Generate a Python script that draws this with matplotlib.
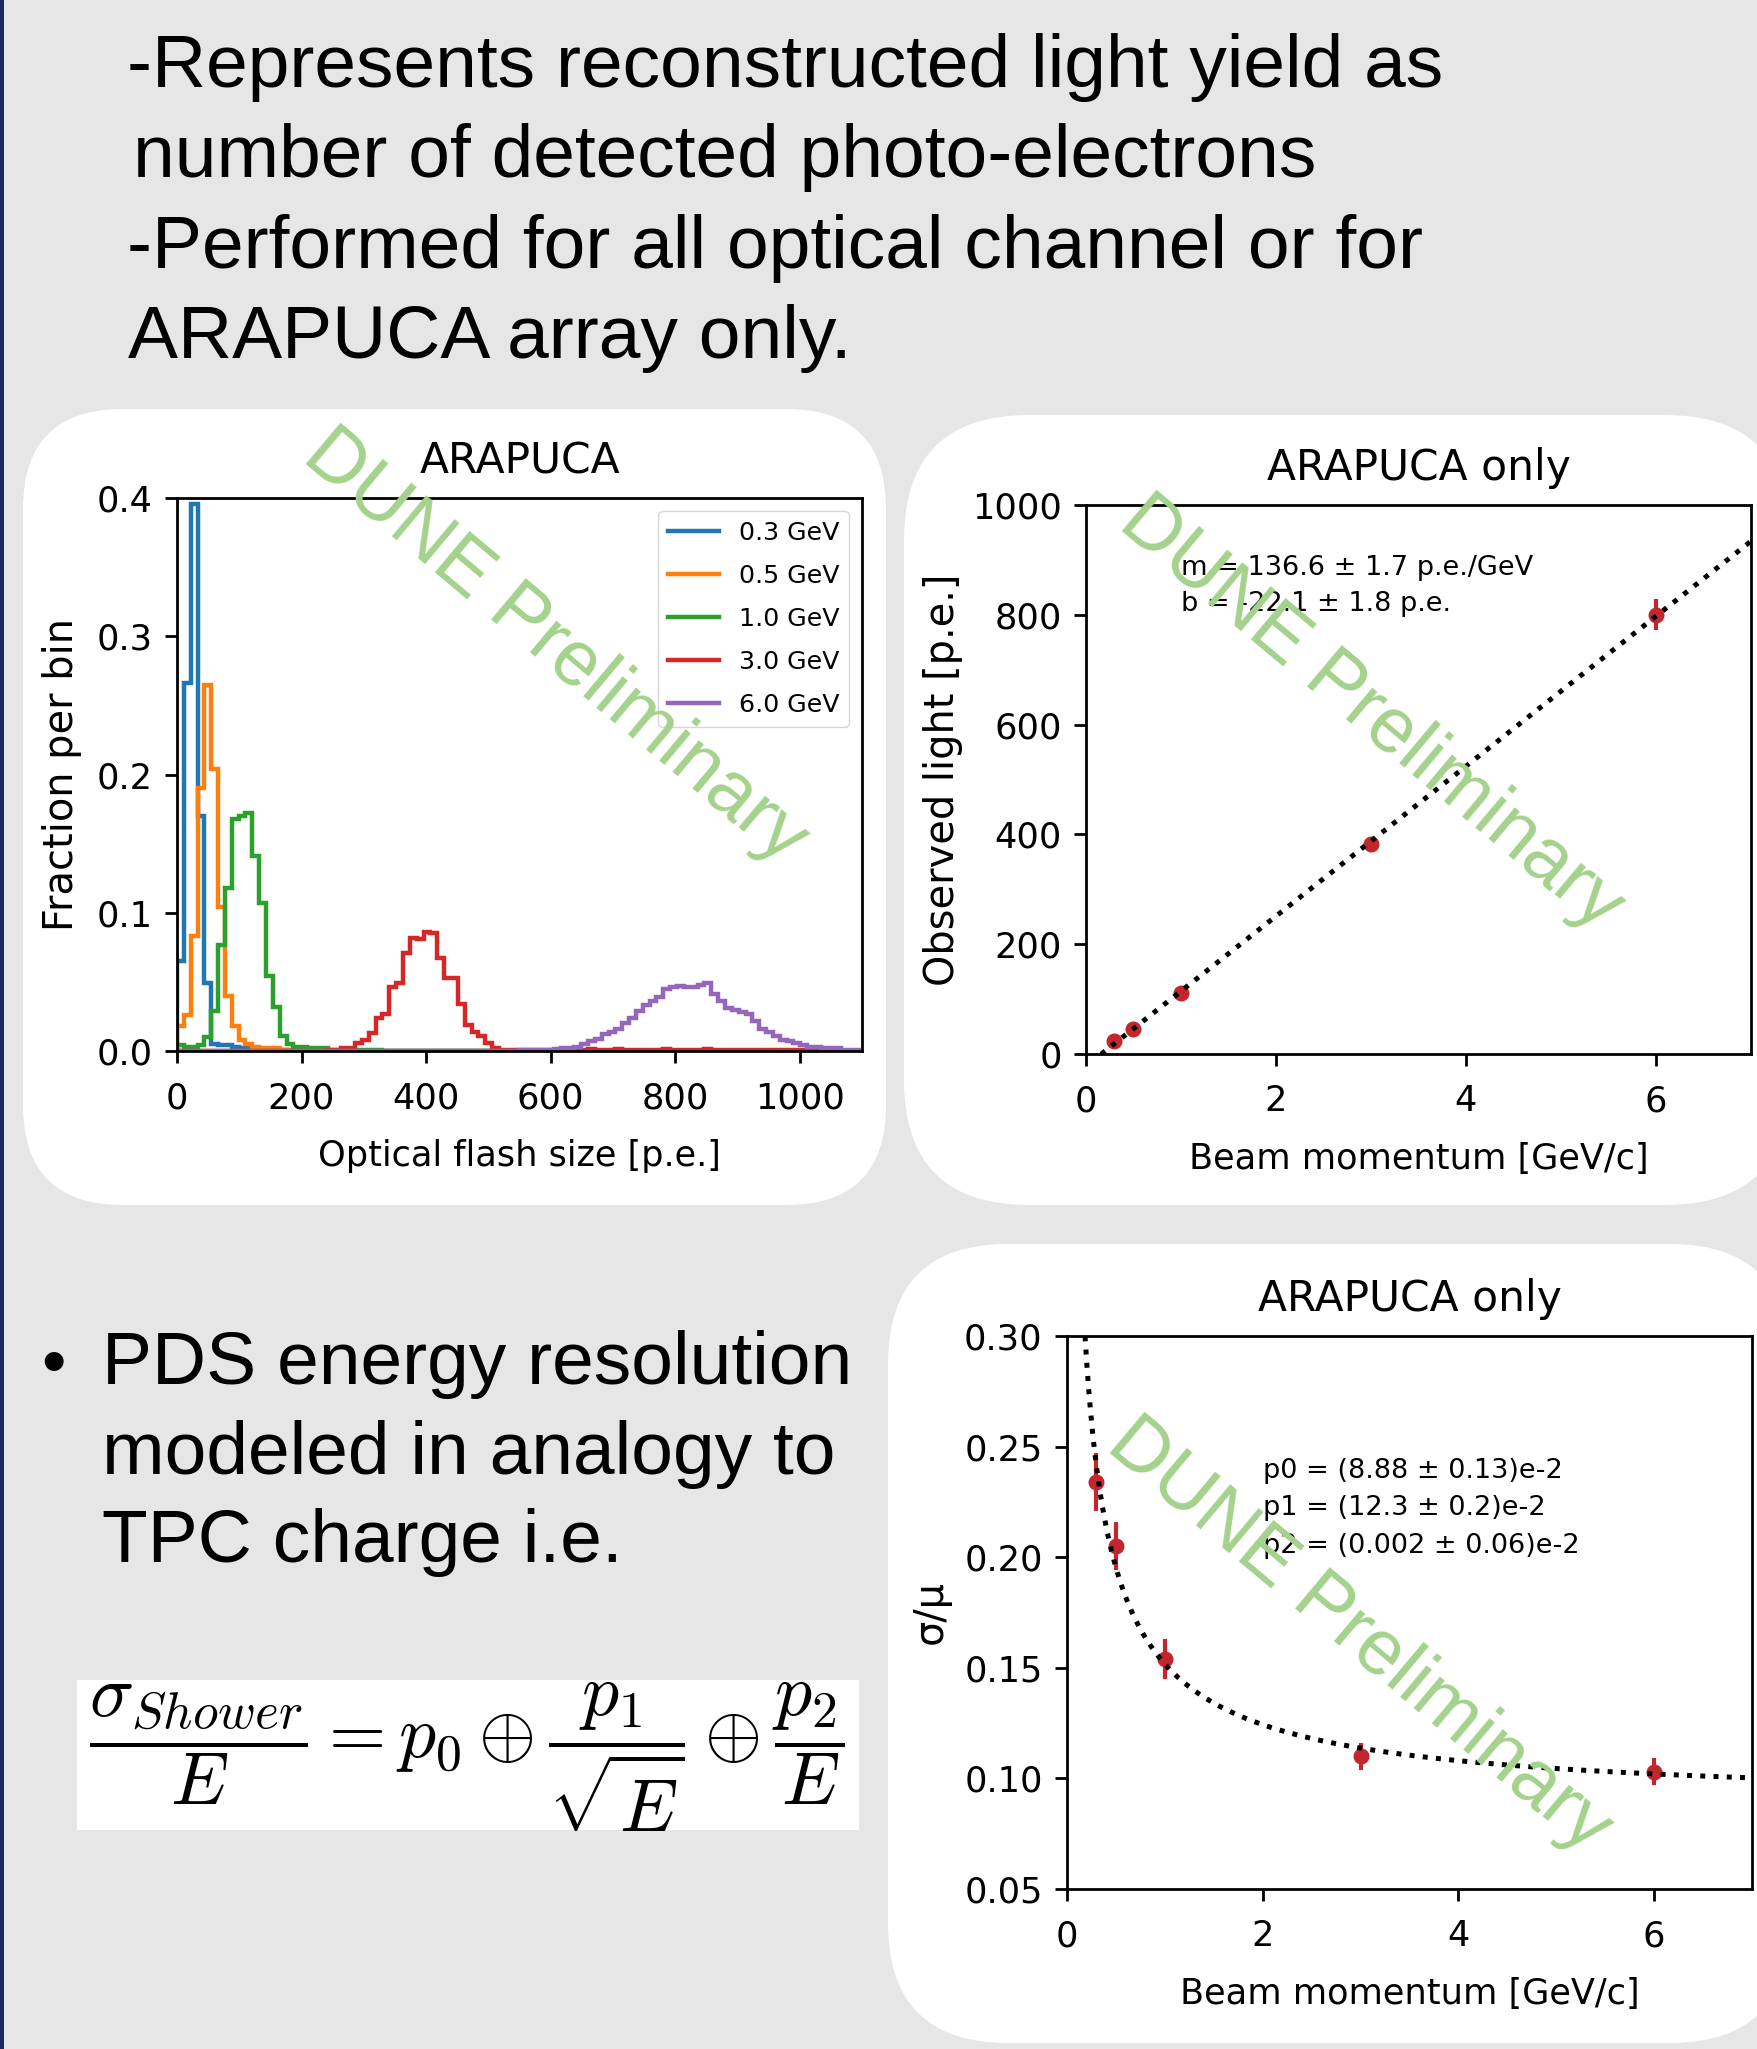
import numpy as np
import matplotlib
matplotlib.use("Agg")
import matplotlib.pyplot as plt
from matplotlib.patches import FancyBboxPatch, Rectangle
from matplotlib.lines import Line2D

# ---------------- data ----------------
flash_bin_edges = np.linspace(0, 1100, 101)          # optical flash size bins [p.e.]
beam_labels = ["0.3 GeV", "0.5 GeV", "1.0 GeV", "3.0 GeV", "6.0 GeV"]
hist_colors = ["#1f77b4", "#ff7f0e", "#2ca02c", "#d62728", "#9467bd"]

# fraction per bin, given as (first bin index, values)
frac_0p3_start = 0
frac_0p3 = [0.065, 0.266, 0.396, 0.170, 0.049, 0.005, 0.004, 0.004, 0.003,
            0.002, 0.002, 0.001, 0.001, 0.001, 0.0005, 0.0005]
frac_0p5_start = 0
frac_0p5 = [0.018, 0.026, 0.083, 0.190, 0.265, 0.204, 0.104, 0.040, 0.018,
            0.008, 0.005, 0.003, 0.002, 0.002, 0.002, 0.001, 0.001, 0.001,
            0.001, 0.0005, 0.0005, 0.0005]
frac_1p0_start = 0
frac_1p0 = [0.004, 0.003, 0.003, 0.004, 0.010, 0.029, 0.077, 0.118, 0.168,
            0.170, 0.172, 0.141, 0.107, 0.054, 0.032, 0.011, 0.005, 0.003,
            0.003, 0.002, 0.002, 0.002, 0.001, 0.001, 0.001, 0.001, 0.0005,
            0.0005, 0.0005, 0.0005]
frac_3p0_start = 22
frac_3p0 = [0.001, 0.001, 0.002, 0.002, 0.006, 0.008, 0.013, 0.024, 0.027,
            0.046, 0.049, 0.071, 0.082, 0.081, 0.086, 0.085, 0.067, 0.053,
            0.053, 0.034, 0.019, 0.014, 0.011, 0.006, 0.002, 0.001,
            0.001, 0.0007, 0.0007, 0.001, 0.0007, 0.0007, 0.0007, 0.001,
            0.0007, 0.0007, 0.0007, 0.0007, 0.0015, 0.0007, 0.001, 0.0007,
            0.0015, 0.0007, 0.0007, 0.001, 0.0007, 0.0007, 0.0007, 0.0015,
            0.0007, 0.0007, 0.001, 0.0007, 0.0007, 0.0015, 0.0007, 0.0007,
            0.0007, 0.0007, 0.001, 0.0007, 0.0007, 0.0007, 0.0005, 0.0005,
            0.0005, 0.0005, 0.0005, 0.0005, 0.0005]
frac_6p0_start = 50
frac_6p0 = [0.001, 0.001, 0.001, 0.001, 0.001, 0.0015,
            0.002, 0.002, 0.003, 0.005, 0.007, 0.009, 0.012, 0.014, 0.016,
            0.020, 0.024, 0.029, 0.033, 0.036, 0.039, 0.045, 0.046, 0.047,
            0.046, 0.046, 0.048, 0.049, 0.041, 0.036, 0.031, 0.030, 0.028,
            0.027, 0.022, 0.016, 0.014, 0.011, 0.008, 0.007, 0.006, 0.004,
            0.003, 0.003, 0.002, 0.002, 0.002, 0.001, 0.001, 0.001]

beam_momentum = [0.3, 0.5, 1.0, 3.0, 6.0]            # GeV/c
observed_light = [24, 45, 111, 383, 800]             # p.e.
observed_light_err = [4, 4, 5, 7, 28]
fit_slope, fit_intercept = 136.6, -22.1

sigma_over_mu = [0.234, 0.205, 0.154, 0.110, 0.103]
sigma_over_mu_err = [0.013, 0.011, 0.009, 0.006, 0.006]
res_p0, res_p1, res_p2 = 8.88e-2, 12.3e-2, 0.002e-2

slide_lines_top = ["-Represents reconstructed light yield as",
                   "number of detected photo-electrons",
                   "-Performed for all optical channel or for",
                   "ARAPUCA array only."]
slide_lines_bullet = ["PDS energy resolution", "modeled in analogy to",
                      "TPC charge i.e."]
watermark = "DUNE Preliminary"

# ---------------- style ----------------
W, H = 1758, 2049
S = 2.5
YLAB = 28.7
plt.rcParams.update({
    "font.size": 10 * S,
    "axes.linewidth": 0.8 * S,
    "axes.titlesize": 12.2 * S,
    "axes.titlepad": 18,
    "axes.labelsize": 10.1 * S,
    "axes.labelpad": 4 * S,
    "xtick.major.size": 3.5 * S, "ytick.major.size": 3.5 * S,
    "xtick.major.width": 0.8 * S, "ytick.major.width": 0.8 * S,
    "xtick.major.pad": 13, "ytick.major.pad": 3.5 * S,
    "xtick.labelsize": 10.1 * S, "ytick.labelsize": 10.1 * S,
})

RED = "#c1272d"
GREEN_WM = "#a4d28c"
BG = "#e6e6e6"

fig = plt.figure(figsize=(W / 100, H / 100), dpi=100)
fig.patch.set_facecolor(BG)

bg = fig.add_axes([0, 0, 1, 1], zorder=-5)
bg.set_xlim(0, W)
bg.set_ylim(H, 0)
bg.axis("off")

bg.add_patch(Rectangle((0, 0), 4, H, color="#1b2a5c", lw=0))
for (x0, y0, x1, y1, r) in [(23, 409, 886, 1205, 100),
                            (904, 415, 1790, 1205, 125),
                            (888, 1244, 1790, 2043, 120)]:
    bg.add_patch(FancyBboxPatch((x0, y0), x1 - x0, y1 - y0,
                                boxstyle=f"round,pad=0,rounding_size={r}",
                                fc="white", ec="none"))
bg.add_patch(Rectangle((77, 1680), 782, 150, fc="white", ec="none"))

slide_font = dict(family="Liberation Sans", fontsize=54, color="black")
for txt, x, yb in zip(slide_lines_top, [127, 133, 127, 128], [87, 177, 268, 358]):
    bg.text(x, yb, txt, va="baseline", ha="left", **slide_font)
bg.text(41, 1384, "\u2022", va="baseline", ha="left",
        family="Liberation Sans", fontsize=50)
for txt, yb in zip(slide_lines_bullet, [1384, 1474, 1562]):
    bg.text(102, yb, txt, va="baseline", ha="left", **slide_font)

plt.rcParams["mathtext.fontset"] = "cm"
bg.text(467, 1757,
        r"$\dfrac{\sigma_{Shower}}{E} = p_0 \oplus \dfrac{p_1}{\sqrt{E}} \oplus \dfrac{p_2}{E}$",
        fontsize=53, ha="center", va="center")

def fpos(l, t, r, b):
    return [l / W, 1 - b / H, (r - l) / W, (b - t) / H]

# ---- panel 1: histograms ----
ax1 = fig.add_axes(fpos(177, 498, 862, 1051), zorder=1)
series = [(frac_0p3_start, frac_0p3), (frac_0p5_start, frac_0p5),
          (frac_1p0_start, frac_1p0), (frac_3p0_start, frac_3p0),
          (frac_6p0_start, frac_6p0)]
handles = []
for (start, vals), col, lab in zip(series, hist_colors, beam_labels):
    arr = np.zeros(len(flash_bin_edges) - 1)
    arr[start:start + len(vals)] = vals
    ax1.stairs(arr, flash_bin_edges, color=col, lw=3.2, baseline=0)
    handles.append(Line2D([], [], color=col, lw=3.2, label=lab))
ax1.set_xlim(0, 1100)
ax1.set_ylim(0, 0.4)
ax1.set_xticks([0, 200, 400, 600, 800, 1000])
ax1.set_yticks([0.0, 0.1, 0.2, 0.3, 0.4])
ax1.set_title("ARAPUCA")
ax1.set_xlabel("Optical flash size [p.e.]", labelpad=17)
ax1.set_ylabel("Fraction per bin", labelpad=10.5, fontsize=YLAB)
ax1.legend(handles=handles, loc="upper right", fontsize=18.2, handlelength=2.0,
           labelspacing=0.75)

# ---- panel 2: observed light ----
ax2 = fig.add_axes(fpos(1086, 505, 1751, 1054), zorder=1)
ax2.errorbar(beam_momentum, observed_light, yerr=observed_light_err, fmt="o",
             color=RED, ms=10.5, elinewidth=3, capsize=0, zorder=2)
xf = np.linspace(0.16, 7.3, 300)
ax2.plot(xf, fit_slope * xf + fit_intercept, ls=":", color="black", lw=3.6, zorder=3)
ax2.set_xlim(0, 7)
ax2.set_ylim(0, 1000)
ax2.set_xticks([0, 2, 4, 6])
ax2.set_yticks([0, 200, 400, 600, 800, 1000])
ax2.set_title("ARAPUCA only")
ax2.set_xlabel("Beam momentum [GeV/c]", labelpad=17)
ax2.set_ylabel("Observed light [p.e.]", labelpad=6.5, fontsize=YLAB)
ax2.text(1.0, 886, f"m = {fit_slope} \u00b1 1.7 p.e./GeV", fontsize=19.5, va="center")
ax2.text(1.0, 819, f"b = {fit_intercept} \u00b1 1.8 p.e.", fontsize=19.5, va="center")

# ---- panel 3: resolution ----
ax3 = fig.add_axes(fpos(1067, 1336, 1752, 1889), zorder=1)
ax3.errorbar(beam_momentum, sigma_over_mu, yerr=sigma_over_mu_err, fmt="o",
             color=RED, ms=10.5, elinewidth=3, capsize=0, zorder=2)
xr = np.linspace(0.15, 7.3, 400)
ax3.plot(xr, np.sqrt(res_p0 ** 2 + res_p1 ** 2 / xr + res_p2 ** 2 / xr ** 2),
         ls=":", color="black", lw=3.6, zorder=3)
ax3.set_xlim(0, 7)
ax3.set_ylim(0.05, 0.30)
ax3.set_xticks([0, 2, 4, 6])
ax3.set_yticks([0.05, 0.10, 0.15, 0.20, 0.25, 0.30])
ax3.set_title("ARAPUCA only")
ax3.set_xlabel("Beam momentum [GeV/c]", labelpad=17)
ax3.set_ylabel("\u03c3/\u03bc", labelpad=9.5, fontsize=YLAB)
for txt, yy in zip(["p0 = (8.88 \u00b1 0.13)e-2", "p1 = (12.3 \u00b1 0.2)e-2",
                    "p2 = (0.002 \u00b1 0.06)e-2"], [0.2388, 0.2221, 0.2051]):
    ax3.text(2.0, yy, txt, fontsize=19.5, va="center")

# ---- watermarks ----
for cx, cy in [(555, 647), (1371, 714), (1359, 1636)]:
    fig.text(cx / W, 1 - cy / H, watermark, family="Liberation Sans", fontsize=56,
             color=GREEN_WM, rotation=-40, rotation_mode="anchor",
             ha="center", va="center", zorder=20)

fig.savefig("out.png", dpi=100, facecolor=BG)
